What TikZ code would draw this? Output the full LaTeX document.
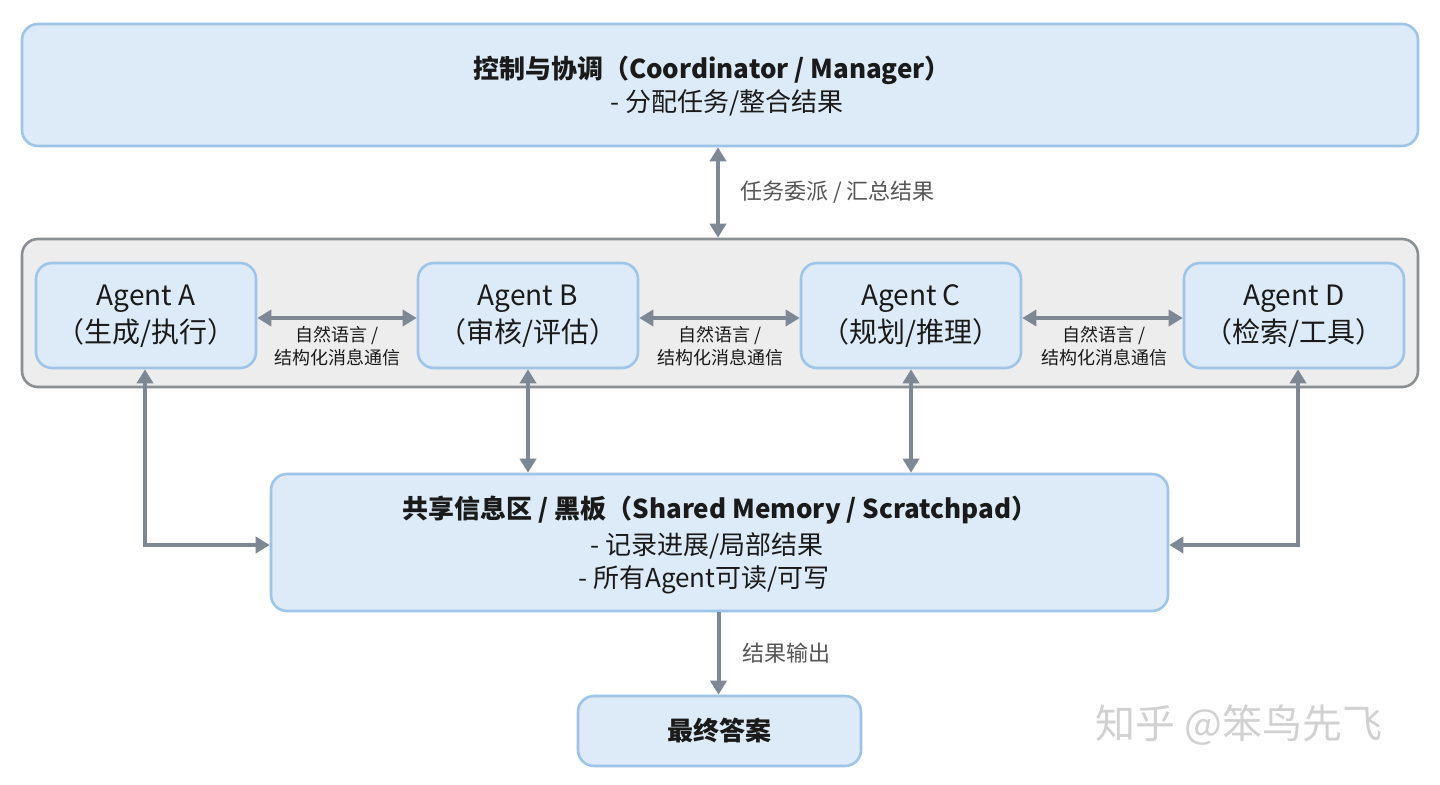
\documentclass[tikz,border=0pt]{standalone}
\usepackage{fontspec}
\setmainfont{Noto Sans CJK SC}
\usetikzlibrary{arrows.meta}
\definecolor{bfill}{HTML}{DCEBF7}
\definecolor{bline}{HTML}{9EC5E8}
\definecolor{gfill}{HTML}{EDEDED}
\definecolor{gline}{HTML}{8A8F94}
\definecolor{arr}{HTML}{7D8894}
\definecolor{txt}{HTML}{1A1A1A}
\definecolor{lbl}{HTML}{555555}
\begin{document}
\begin{tikzpicture}[x=0.5pt,y=-0.5pt,
  box/.style={draw=bline,fill=bfill,line width=1.3pt,rounded corners=8pt},
  gbox/.style={draw=gline,fill=gfill,line width=1.3pt,rounded corners=8pt},
  conn/.style={draw=arr,line width=2pt,-{Triangle[length=7pt,width=8pt]}},
  dconn/.style={draw=arr,line width=2pt,{Triangle[length=7pt,width=8pt]}-{Triangle[length=7pt,width=8pt]}},
  t/.style={text=txt,font=\fontsize{13}{15}\selectfont,inner sep=0pt},
  ta/.style={text=txt,font=\fontsize{14}{16}\selectfont,inner sep=0pt},
  tb/.style={t,font=\fontsize{13}{15}\selectfont\bfseries},
  l/.style={text=lbl,font=\fontsize{11}{13}\selectfont,inner sep=0pt},
  s/.style={text=txt,font=\fontsize{9}{11}\selectfont,inner sep=0pt}]
\useasboundingbox[fill=white] (0,0) rectangle (1440,785);
\node[box,minimum width=1396*0.5pt,minimum height=122*0.5pt] (top) at (720,85) {};
\node[tb] (topt) at (712,70) {控制与协调（Coordinator / Manager）};
\node[t] (tops) at (727,103) {- 分配任务/整合结果};
\node[gbox,minimum width=1396*0.5pt,minimum height=148*0.5pt] (grp) at (720,313) {};
\foreach \n/\x/\a/\b in {A/146/Agent A/{（生成/执行）},B/528/Agent B/{（审核/评估）},C/911/Agent C/{（规划/推理）},D/1294/Agent D/{（检索/工具）}}{
  \node[box,minimum width=220*0.5pt,minimum height=105*0.5pt] (\n) at (\x,315.5) {};
  \node[ta] at (\x,299) {\a};
  \node[ta] at (\x,333) {\b};
}
\node[box,minimum width=897*0.5pt,minimum height=137*0.5pt] (mem) at (719.5,542.5) {};
\node[tb] at (720,510) {共享信息区 / 黑板（Shared Memory / Scratchpad）};
\node[t,anchor=west] at (590,546) {- 记录进展/局部结果};
\node[t,anchor=west] at (578,580) {- 所有Agent可读/可写};
\node[box,minimum width=283*0.5pt,minimum height=70*0.5pt] (fin) at (719.5,731) {};
\node[tb] at (719.5,731) {最终答案};
\draw[dconn] ([xshift=-2*0.5pt]top.south) -- ([xshift=-2*0.5pt]grp.north);
\node[l,anchor=west] at (740,192) {任务委派 / 汇总结果};
\foreach \p/\q/\c in {A/B/337,B/C/720,C/D/1104}{
  \draw[dconn] ([yshift=-2.5*0.5pt]\p.east) -- ([yshift=-2.5*0.5pt]\q.west);
  \node[s] at (\c,335) {自然语言 /};
  \node[s] at (\c,358) {结构化消息通信};
}
\coordinate (ka) at (145,545);
\coordinate (kd) at (1298,545);
\draw[dconn] ([xshift=-1*0.5pt]A.south) -- (ka) -- (mem.west |- ka);
\draw[dconn] ([xshift=4*0.5pt]D.south) -- (kd) -- (mem.east |- kd);
\draw[dconn] (B.south) -- (B.south |- mem.north);
\draw[dconn] (C.south) -- (C.south |- mem.north);
\draw[conn] ([xshift=-1*0.5pt]mem.south) -- ([xshift=-1*0.5pt]fin.north);
\node[l,anchor=west] at (742,653) {结果输出};
\node[text=black!18,font=\fontsize{20}{22}\selectfont,inner sep=0pt,anchor=west] (wm) at (1095,725) {知乎 @笨鸟先飞};
\end{tikzpicture}
\end{document}
